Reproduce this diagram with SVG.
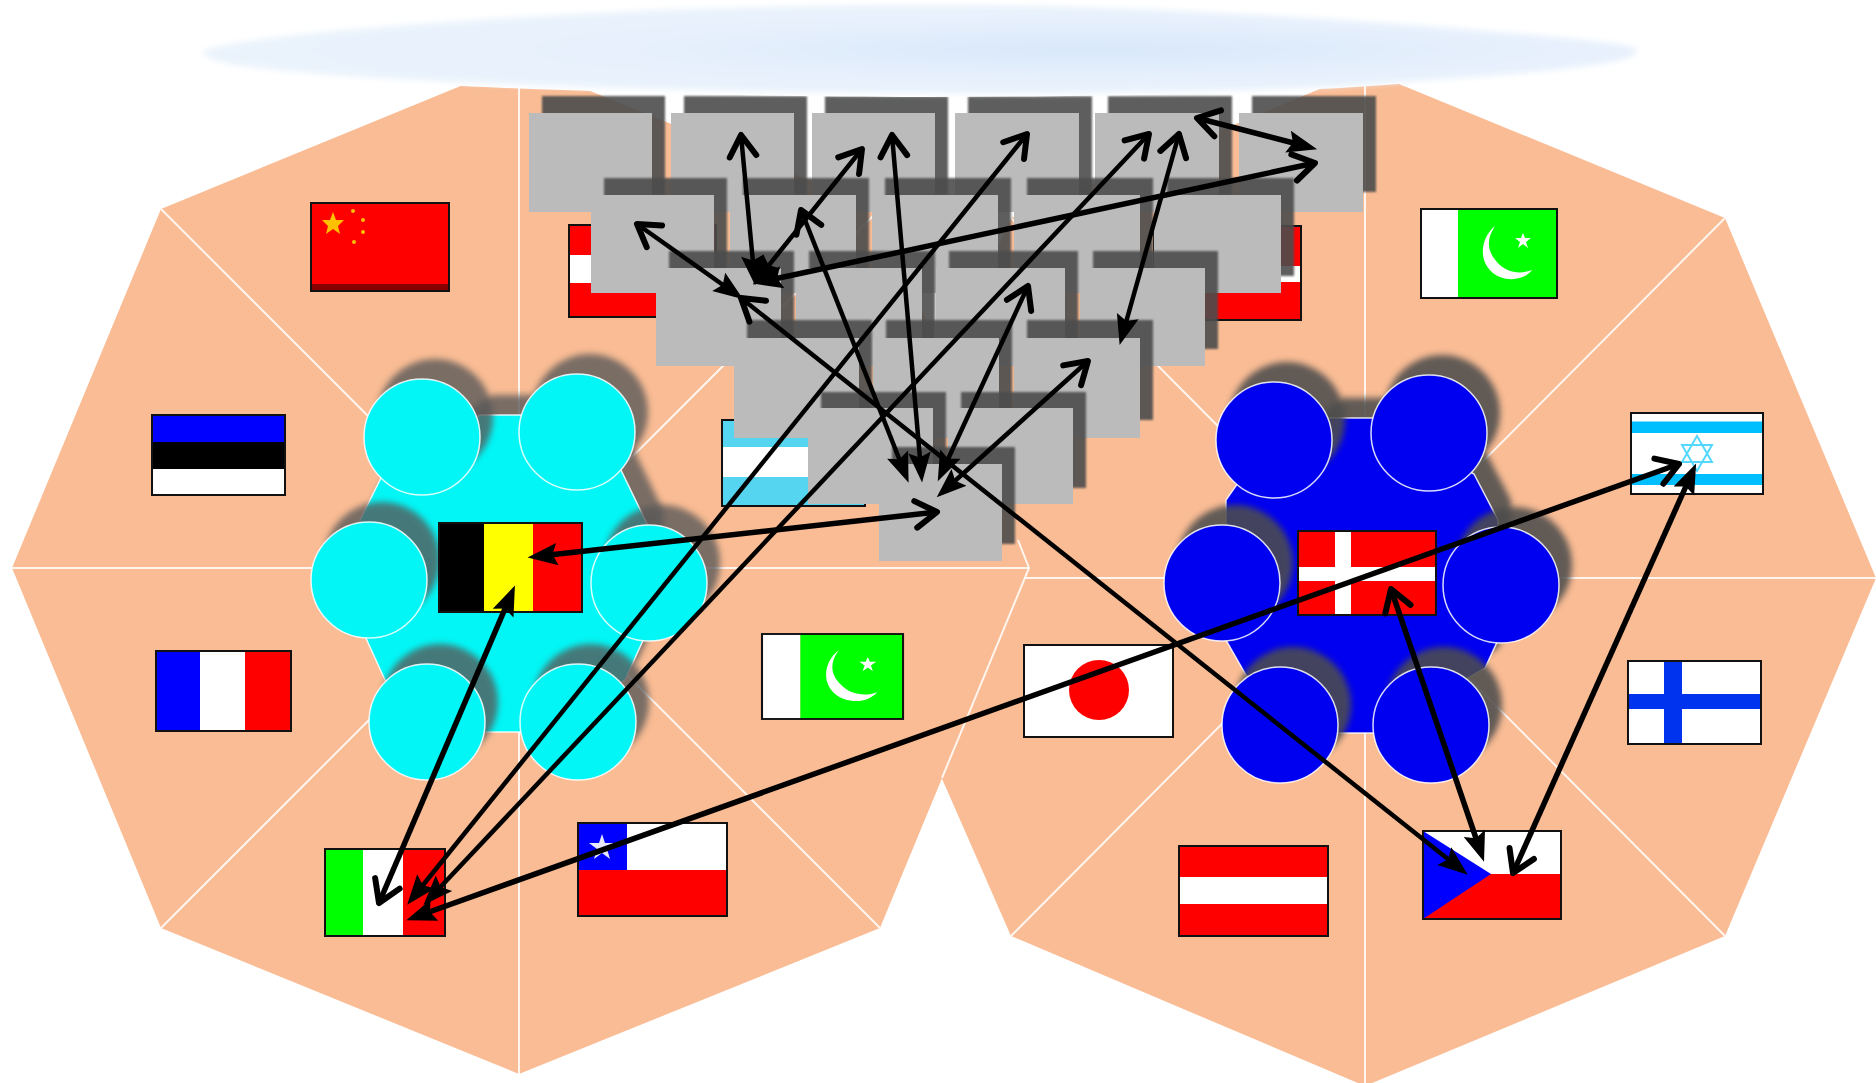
<svg xmlns="http://www.w3.org/2000/svg" width="1876" height="1083" viewBox="0 0 1876 1083">
<style>
.poly{fill:#f9bc94}
.rad{stroke:#fff;stroke-width:2;fill:none;opacity:.85}
.gr{fill:#bbb}
.gs{fill:#4e4e4e;opacity:.9;filter:url(#b1)}
.cs{fill:#585858;opacity:.79;filter:url(#b3)}
.bs{fill:#4e4e4e;opacity:.88;filter:url(#b3)}
.cy{fill:#02f6f6;stroke:#fff;stroke-width:1.5;stroke-opacity:.85}
.bl{fill:#0000f0;stroke:#fff;stroke-width:1.5;stroke-opacity:.85}
.fb{fill:none;stroke:#111;stroke-width:2}
.r{fill:#f00}.w{fill:#fff}.k{fill:#000}.u{fill:#00f}.g{fill:#0f0}
.c line{stroke:#000;stroke-width:4.5;marker-start:url(#fh);marker-end:url(#oh)}
.c line.t{stroke-width:5.5}
</style>
<defs>
<filter id="b1" x="-10%" y="-10%" width="120%" height="120%"><feGaussianBlur stdDeviation="1.2"/></filter>
<filter id="b3" x="-20%" y="-20%" width="140%" height="140%"><feGaussianBlur stdDeviation="3"/></filter>
<filter id="b6" x="-5%" y="-30%" width="110%" height="160%"><feGaussianBlur stdDeviation="3"/></filter>
<radialGradient id="cl" cx="0.62" cy="0.5" r="0.6"><stop offset="0" stop-color="#d8e7fb"/><stop offset="0.5" stop-color="#e6f0fc"/><stop offset="1" stop-color="#eaf3fc"/></radialGradient>
<marker id="oh" markerUnits="userSpaceOnUse" markerWidth="40" markerHeight="40" refX="0" refY="0" viewBox="-22 -14 30 28" orient="auto-start-reverse" overflow="visible"><path d="M-16,-10 L0,0 L-16,10" fill="none" stroke="#000" stroke-width="4.500" stroke-linecap="round" stroke-linejoin="round"/></marker>
<marker id="fh" markerUnits="userSpaceOnUse" markerWidth="40" markerHeight="40" refX="0" refY="0" viewBox="-18 -12 32 24" orient="auto-start-reverse" overflow="visible"><path d="M10,0 L-14,-9 L-10,0 L-14,9 Z" fill="#000"/></marker>
</defs>
<rect width="1876" height="1083" fill="#fff"/>

<g id="region-right">
<polygon class="poly" points="1365,70 1725,218 1876,578 1725,936 1365,1086 1011,936 854,578 1011,218"/>
<path class="rad" d="M1365,70V1083M854,578H1876M1011,218L1725,936M1725,218L1011,936"/>
</g>
<g id="region-left">
<polygon class="poly" points="519,62 161,209 12,568 161,928 519,1074 880,928 1029,568 880,209"/>
<path class="rad" d="M519,62V1074M12,568H1029M161,209L880,928M880,209L161,928"/>
<path class="rad" d="M1018,540L1029,568L942,778"/>
</g>

<g id="flag-china"><rect class="r" x="311" y="203" width="138" height="88"/><rect x="312" y="284" width="136" height="6" fill="#800"/><polygon fill="#ffc000" points="333,212 336,220 344,220 338,226 340,234 333,229 326,234 328,226 322,220 330,220"/><circle cx="353" cy="211" r="2" fill="#ffc000"/><circle cx="363" cy="220" r="2" fill="#ffc000"/><circle cx="363" cy="232" r="2" fill="#ffc000"/><circle cx="354" cy="242" r="2" fill="#ffc000"/><rect class="fb" x="311" y="203" width="138" height="88"/></g>
<g id="flag-estonia"><rect class="u" x="152" y="415" width="133" height="27"/><rect class="k" x="152" y="442" width="133" height="27"/><rect class="w" x="152" y="469" width="133" height="26"/><rect class="fb" x="152" y="415" width="133" height="80"/></g>
<g id="flag-france"><rect class="u" x="156" y="651" width="44" height="80"/><rect class="w" x="200" y="651" width="45" height="80"/><rect class="r" x="245" y="651" width="46" height="80"/><rect class="fb" x="156" y="651" width="135" height="80"/></g>
<g id="flag-italy"><rect class="g" x="325" y="849" width="38" height="87"/><rect class="w" x="363" y="849" width="40" height="87"/><rect class="r" x="403" y="849" width="42" height="87"/><rect class="fb" x="325" y="849" width="120" height="87"/></g>
<g id="flag-chile"><rect class="w" x="578" y="823" width="149" height="47"/><rect class="r" x="578" y="870" width="149" height="46"/><rect class="u" x="578" y="823" width="49" height="47"/><polygon fill="#e8e8ff" points="602,834 605,843 615,843 607,849 610,859 602,853 594,859 597,849 589,843 599,843"/><rect class="fb" x="578" y="823" width="149" height="93"/></g>
<g id="flag-pakistan-left" transform="translate(762 634) scale(1.037 .955) translate(-1421 -209)"><rect class="w" x="1421" y="209" width="37" height="89"/><rect class="g" x="1458" y="209" width="99" height="89"/><path class="w" d="M1495,226C1478,240 1478,268 1500,277C1513,282 1526,278 1532,270C1520,275 1505,272 1497,262C1486,250 1487,238 1495,226Z"/><polygon class="w" points="1523,233 1525,238 1531,238 1526,242 1528,248 1523,244 1518,248 1520,242 1515,238 1521,238"/><rect class="fb" x="1421" y="209" width="136" height="89"/></g>
<g id="flag-japan"><rect class="w" x="1024" y="645" width="149" height="92"/><circle class="r" cx="1099" cy="690" r="30"/><rect class="fb" x="1024" y="645" width="149" height="92"/></g>
<g id="flag-argentina"><rect x="722" y="420" width="143" height="86" fill="#55d5f0"/><rect class="w" x="722" y="447" width="143" height="30"/><rect class="fb" x="722" y="420" width="143" height="86"/></g>
<g id="flag-topleft"><rect class="r" x="569" y="225" width="147" height="92"/><rect class="w" x="569" y="255" width="147" height="28"/><rect class="fb" x="569" y="225" width="147" height="92"/></g>
<g id="flag-topright"><rect class="r" x="1154" y="226" width="147" height="94"/><rect class="w" x="1154" y="266" width="147" height="16"/><rect class="fb" x="1154" y="226" width="147" height="94"/></g>
<g id="flag-pakistan-right"><rect class="w" x="1421" y="209" width="37" height="89"/><rect class="g" x="1458" y="209" width="99" height="89"/><path class="w" d="M1495,226C1478,240 1478,268 1500,277C1513,282 1526,278 1532,270C1520,275 1505,272 1497,262C1486,250 1487,238 1495,226Z"/><polygon class="w" points="1523,233 1525,238 1531,238 1526,242 1528,248 1523,244 1518,248 1520,242 1515,238 1521,238"/><rect class="fb" x="1421" y="209" width="136" height="89"/></g>
<g id="flag-israel"><rect class="w" x="1631" y="413" width="132" height="81"/><rect x="1631" y="421.500" width="132" height="11.500" fill="#00bfff"/><rect x="1631" y="474" width="132" height="11" fill="#00bfff"/><path d="M1697,436L1712,462H1682ZM1697,471L1682,445H1712Z" fill="none" stroke="#55d8ff" stroke-width="2"/><rect class="fb" x="1631" y="413" width="132" height="81"/></g>
<g id="flag-finland"><rect class="w" x="1628" y="661" width="133" height="83"/><rect x="1664" y="661" width="18" height="83" fill="#03e"/><rect x="1628" y="694" width="133" height="15" fill="#03e"/><rect class="fb" x="1628" y="661" width="133" height="83"/></g>
<g id="flag-austria"><rect class="r" x="1179" y="846" width="149" height="90"/><rect class="w" x="1179" y="877" width="149" height="27"/><rect class="fb" x="1179" y="846" width="149" height="90"/></g>
<g id="flag-czech"><rect class="w" x="1423" y="831" width="138" height="43"/><rect class="r" x="1423" y="874" width="138" height="45"/><polygon class="u" points="1423,831 1491,874 1423,919"/><rect class="fb" x="1423" y="831" width="138" height="88"/></g>

<g id="cyan-cluster">
<polygon class="cs" transform="translate(13 -20)" points="480,415 530,415 620,468 650,530 650,625 625,680 540,732 470,732 385,680 360,625 360,520 385,470"/>
<polygon class="cy" points="480,415 530,415 620,468 650,530 650,625 625,680 540,732 470,732 385,680 360,625 360,520 385,470"/>
<circle class="cs" cx="435" cy="417" r="58"/><circle class="cy" cx="422" cy="437" r="58"/>
<circle class="cs" cx="590" cy="412" r="58"/><circle class="cy" cx="577" cy="432" r="58"/>
<circle class="cs" cx="382" cy="560" r="58"/><circle class="cy" cx="369" cy="580" r="58"/>
<circle class="cs" cx="662" cy="563" r="58"/><circle class="cy" cx="649" cy="583" r="58"/>
<circle class="cs" cx="440" cy="702" r="58"/><circle class="cy" cx="427" cy="722" r="58"/>
<circle class="cs" cx="591" cy="702" r="58"/><circle class="cy" cx="578" cy="722" r="58"/>
</g>
<g id="blue-cluster">
<polygon class="bs" transform="translate(13 -20)" points="1330,418 1375,418 1474,474 1498,520 1498,640 1485,668 1375,733 1330,733 1246,675 1226,640 1226,500 1240,480"/>
<polygon class="bl" points="1330,418 1375,418 1474,474 1498,520 1498,640 1485,668 1375,733 1330,733 1246,675 1226,640 1226,500 1240,480"/>
<circle class="bs" cx="1287" cy="420" r="58"/><circle class="bl" cx="1274" cy="440" r="58"/>
<circle class="bs" cx="1442" cy="413" r="58"/><circle class="bl" cx="1429" cy="433" r="58"/>
<circle class="bs" cx="1235" cy="563" r="58"/><circle class="bl" cx="1222" cy="583" r="58"/>
<circle class="bs" cx="1514" cy="565" r="58"/><circle class="bl" cx="1501" cy="585" r="58"/>
<circle class="bs" cx="1293" cy="705" r="58"/><circle class="bl" cx="1280" cy="725" r="58"/>
<circle class="bs" cx="1444" cy="705" r="58"/><circle class="bl" cx="1431" cy="725" r="58"/>
</g>
<g id="flag-belgium"><rect class="k" x="439" y="523" width="45" height="89"/><rect x="484" y="523" width="49" height="89" fill="#ff0"/><rect class="r" x="533" y="523" width="49" height="89"/><rect class="fb" x="439" y="523" width="143" height="89"/></g>
<g id="flag-denmark"><rect class="r" x="1298" y="531" width="138" height="84"/><rect class="w" x="1335" y="531" width="16" height="84"/><rect class="w" x="1298" y="567" width="138" height="14"/><rect class="fb" x="1298" y="531" width="138" height="84"/></g>

<g id="block-r1-1"><rect class="gs" x="542" y="96" width="123" height="99"/><rect class="gr" x="529" y="113" width="123" height="99"/></g>
<g id="block-r1-2"><rect class="gs" x="684" y="96" width="123" height="99"/><rect class="gr" x="671" y="113" width="123" height="99"/></g>
<g id="block-r1-3"><rect class="gs" x="825" y="96" width="123" height="99"/><rect class="gr" x="812" y="113" width="123" height="99"/></g>
<g id="block-r1-4"><rect class="gs" x="968" y="96" width="124" height="99"/><rect class="gr" x="955" y="113" width="124" height="99"/></g>
<g id="block-r1-5"><rect class="gs" x="1108" y="96" width="124" height="99"/><rect class="gr" x="1095" y="113" width="124" height="99"/></g>
<g id="block-r1-6"><rect class="gs" x="1252" y="96" width="124" height="96"/><rect class="gr" x="1239" y="113" width="124" height="99"/></g>
<g id="block-r2-1"><rect class="gs" x="604" y="178" width="123" height="98"/><rect class="gr" x="591" y="195" width="123" height="98"/></g>
<g id="block-r2-2"><rect class="gs" x="743" y="178" width="126" height="98"/><rect class="gr" x="730" y="195" width="126" height="98"/></g>
<g id="block-r2-3"><rect class="gs" x="885" y="178" width="126" height="98"/><rect class="gr" x="872" y="195" width="126" height="98"/></g>
<g id="block-r2-4"><rect class="gs" x="1027" y="178" width="126" height="98"/><rect class="gr" x="1014" y="195" width="126" height="98"/></g>
<g id="block-r2-5"><rect class="gs" x="1167" y="178" width="127" height="98"/><rect class="gr" x="1154" y="195" width="127" height="98"/></g>
<g id="block-r3-1"><rect class="gs" x="669" y="251" width="125" height="98"/><rect class="gr" x="656" y="268" width="125" height="98"/></g>
<g id="block-r3-2"><rect class="gs" x="809" y="251" width="126" height="98"/><rect class="gr" x="796" y="268" width="126" height="98"/></g>
<g id="block-r3-3"><rect class="gs" x="949" y="251" width="129" height="98"/><rect class="gr" x="936" y="268" width="129" height="98"/></g>
<g id="block-r3-4"><rect class="gs" x="1093" y="251" width="125" height="98"/><rect class="gr" x="1080" y="268" width="125" height="98"/></g>
<g id="block-r4-1"><rect class="gs" x="747" y="320" width="125" height="100"/><rect class="gr" x="734" y="338" width="125" height="100"/></g>
<g id="block-r4-2"><rect class="gs" x="886" y="320" width="126" height="100"/><rect class="gr" x="873" y="338" width="126" height="100"/></g>
<g id="block-r4-3"><rect class="gs" x="1027" y="320" width="126" height="100"/><rect class="gr" x="1014" y="338" width="126" height="100"/></g>
<g id="block-r5-1"><rect class="gs" x="821" y="392" width="125" height="96"/><rect class="gr" x="808" y="408" width="125" height="96"/></g>
<g id="block-r5-2"><rect class="gs" x="961" y="392" width="125" height="96"/><rect class="gr" x="948" y="408" width="125" height="96"/></g>
<g id="block-r6-1"><rect class="gs" x="892" y="447" width="123" height="97"/><rect class="gr" x="879" y="464" width="123" height="97"/></g>

<g id="cloud">
<path fill="#fff" d="M201,51C240,34 420,18 620,8C800,0 1000,0 1094,4C1250,8 1500,26 1600,38C1640,42 1652,50 1638,58C1610,72 1450,80 1340,88C1200,96 900,100 700,94C520,90 330,82 240,68C210,63 196,56 201,51Z"/>
<path fill="url(#cl)" filter="url(#b6)" d="M203,51C245,36 420,22 620,12C800,4 1000,4 1094,8C1250,12 1495,30 1600,42C1636,45 1644,50 1632,56C1604,70 1450,78 1340,86C1200,94 900,96 700,90C520,86 330,78 243,66C215,62 200,55 203,51Z"/>
</g>

<g id="connectors" class="c">
<line x1="540" y1="556" x2="937" y2="512" class="t"/>
<line x1="754" y1="273" x2="741" y2="135"/>
<line x1="761" y1="275" x2="862" y2="149"/>
<line x1="765" y1="281" x2="1315" y2="163" class="t"/>
<line x1="733" y1="292" x2="637" y2="224"/>
<line x1="1458" y1="867" x2="741" y2="298"/>
<line x1="904" y1="471" x2="801" y2="210"/>
<line x1="921" y1="470" x2="892" y2="135"/>
<line x1="415" y1="895" x2="1027" y2="134"/>
<line x1="432" y1="896" x2="1149" y2="134"/>
<line x1="1123" y1="333" x2="1179" y2="134"/>
<line x1="1305" y1="146" x2="1197" y2="118" class="t"/>
<line x1="943" y1="470" x2="1028" y2="286"/>
<line x1="946" y1="489" x2="1088" y2="361"/>
<line x1="510" y1="597" x2="379" y2="903" class="t"/>
<line x1="418" y1="916" x2="1679" y2="464" class="t"/>
<line x1="1691" y1="475" x2="1513" y2="873" class="t"/>
<line x1="1480" y1="850" x2="1391" y2="589" class="t"/>
</g>
</svg>
